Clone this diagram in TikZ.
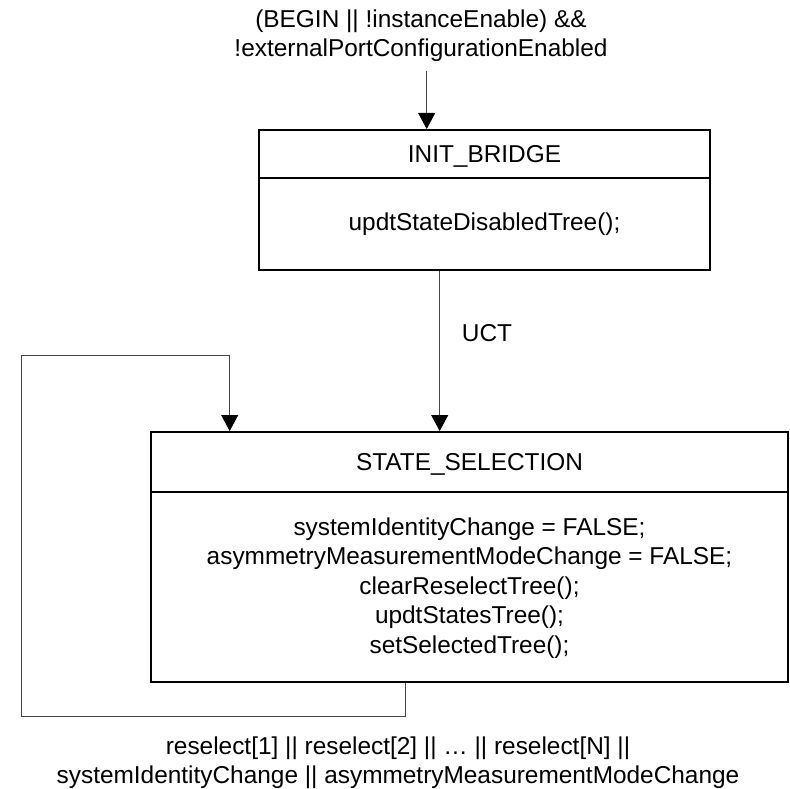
\documentclass[tikz,border=0pt]{standalone}
\usepackage{fontspec}
\setmainfont{Liberation Sans}
\usetikzlibrary{arrows.meta}
\definecolor{lineColor}{RGB}{70,70,70}
\tikzstyle{stateBox} = [draw=black, line width=2pt, rectangle, inner sep=0pt]
\tikzstyle{stateDivider} = [draw=black, line width=2pt]
\tikzstyle{stateText} = [font=\fontsize{24.4}{29.6}\selectfont, align=center, inner sep=0pt]
\tikzstyle{conditionText} = [font=\fontsize{24.4}{29}\selectfont, align=center, inner sep=0pt]
\tikzstyle{transitionLine} = [color=lineColor, line width=1pt, -{Triangle[length=16pt, width=17pt, color=black]}]
\tikzstyle{loopLine} = [color=lineColor, line width=1pt]

\begin{document}
\begin{tikzpicture}[x=1pt, y=-1pt]
      \useasboundingbox (0,0) rectangle (790,789);

      % states
      \node[stateBox, minimum width=451pt, minimum height=140pt] (initBridge) at (484.5,200) {};
      \draw[stateDivider] ([yshift=-49.3pt]initBridge.north west) -- ([yshift=-49.3pt]initBridge.north east);
      \node[stateText, anchor=base] (initBridgeTitle) at (484.5,162.7) {INIT\_BRIDGE};
      \node[stateText, anchor=base] (initBridgeBody) at (484.5,230.7) {updtStateDisabledTree();};

      \node[stateBox, minimum width=637pt, minimum height=250pt] (stateSelection) at (469.5,557) {};
      \draw[stateDivider] ([yshift=-61pt]stateSelection.north west) -- ([yshift=-61pt]stateSelection.north east);
      \node[stateText, anchor=base] (stateSelectionTitle) at (469.5,470) {STATE\_SELECTION};
      \node[stateText] (stateSelectionBody) at (469.5,588) {systemIdentityChange = FALSE;\\
        asymmetryMeasurementModeChange = FALSE;\\
        clearReselectTree();\\
        updtStatesTree();\\
        setSelectedTree();};

      % conditions
      \node[conditionText] (beginCondition) at (421,36) {(BEGIN || !instanceEnable) \&\&\\ !externalPortConfigurationEnabled};
      \node[conditionText] (reselectCondition) at (398,763) {reselect[1] || reselect[2] || \dots\ || reselect[N] ||\\ systemIdentityChange || asymmetryMeasurementModeChange};

      % transitions
      \coordinate (initEntry) at (426.7,70.7);
      \draw[transitionLine] (initEntry) -- (initEntry |- initBridge.north);

      \coordinate (uctStart) at ([xshift=181.7pt]initBridge.south west);
      \draw[transitionLine] (uctStart) -- (uctStart |- stateSelection.north);
      \node[stateText, anchor=west] (uctLabel) at (461.7,333) {UCT};

      \coordinate (loopStart) at ([xshift=255pt]stateSelection.south west);
      \coordinate (loopEnd) at ([xshift=79.7pt]stateSelection.north west);
      \coordinate (loopBottom) at (21,716.7);
      \coordinate (loopTop) at (21,355);
      \draw[loopLine] (loopStart) |- (loopBottom) -- (loopTop);
      \draw[transitionLine] (loopTop) -| (loopEnd);
    \end{tikzpicture}
\end{document}
